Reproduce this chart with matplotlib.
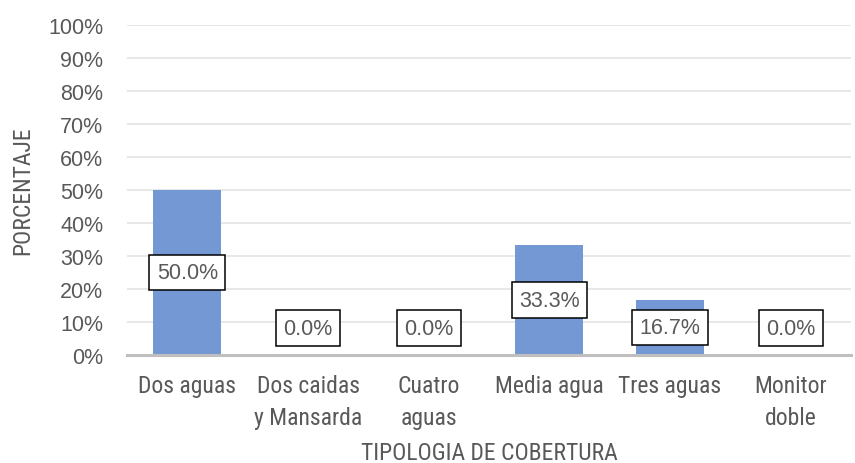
import matplotlib
matplotlib.use("Agg")
import matplotlib.pyplot as plt
from matplotlib.ticker import PercentFormatter

categories = ["Dos aguas", "Dos caidas\ny Mansarda", "Cuatro\naguas", "Media agua", "Tres aguas", "Monitor\ndoble"]
values = [50.0, 0.0, 0.0, 33.3, 16.7, 0.0]
yticks = [0, 10, 20, 30, 40, 50, 60, 70, 80, 90, 100]

narrow = ["Roboto Condensed", "Archivo Narrow", "DejaVu Sans"]
arial = ["Liberation Sans", "DejaVu Sans"]
txt = "#595959"

fig = plt.figure(figsize=(8.55, 4.64), dpi=100)
ax = fig.add_axes([127 / 855, 108 / 464, 724 / 855, 330 / 464])

x = list(range(len(categories)))
ax.bar(x, values, width=0.565, color="#7498d4", zorder=2)
ax.set_xlim(-0.5, len(categories) - 0.5)
ax.set_ylim(0, 100)
ax.set_yticks(yticks)
ax.yaxis.set_major_formatter(PercentFormatter(decimals=0))
ax.grid(axis="y", color="#e4e4e4", linewidth=1.2, zorder=0)
for s in ["top", "right", "left"]:
    ax.spines[s].set_visible(False)
ax.spines["bottom"].set_color("#bfbfbf")
ax.spines["bottom"].set_linewidth(2.2)
ax.spines["bottom"].set_zorder(4)
ax.tick_params(axis="both", length=0, colors=txt)
for lab in ax.get_yticklabels():
    lab.set_fontfamily(arial)
    lab.set_fontsize(15.5)
ax.set_xticks(x)
ax.set_xticklabels(categories, fontfamily=narrow, fontsize=17, color=txt, linespacing=1.45)
ax.tick_params(axis="x", pad=14)
ax.tick_params(axis="y", pad=17)

for i, v in enumerate(values):
    ypos = max(v / 2, 8.1)
    ax.text(i, ypos, f"{v:.1f}%", ha="center", va="center", fontsize=15.5,
            fontfamily=arial, color=txt, zorder=5,
            bbox=dict(boxstyle="square,pad=0.34", facecolor="white", edgecolor="black", linewidth=1.1))

ax.set_xlabel("TIPOLOGIA DE COBERTURA", fontfamily=narrow, fontsize=17, color=txt, labelpad=9)
ax.set_ylabel("PORCENTAJE", fontfamily=narrow, fontsize=17, color=txt, labelpad=10)

fig.savefig("out.png", dpi=100)
